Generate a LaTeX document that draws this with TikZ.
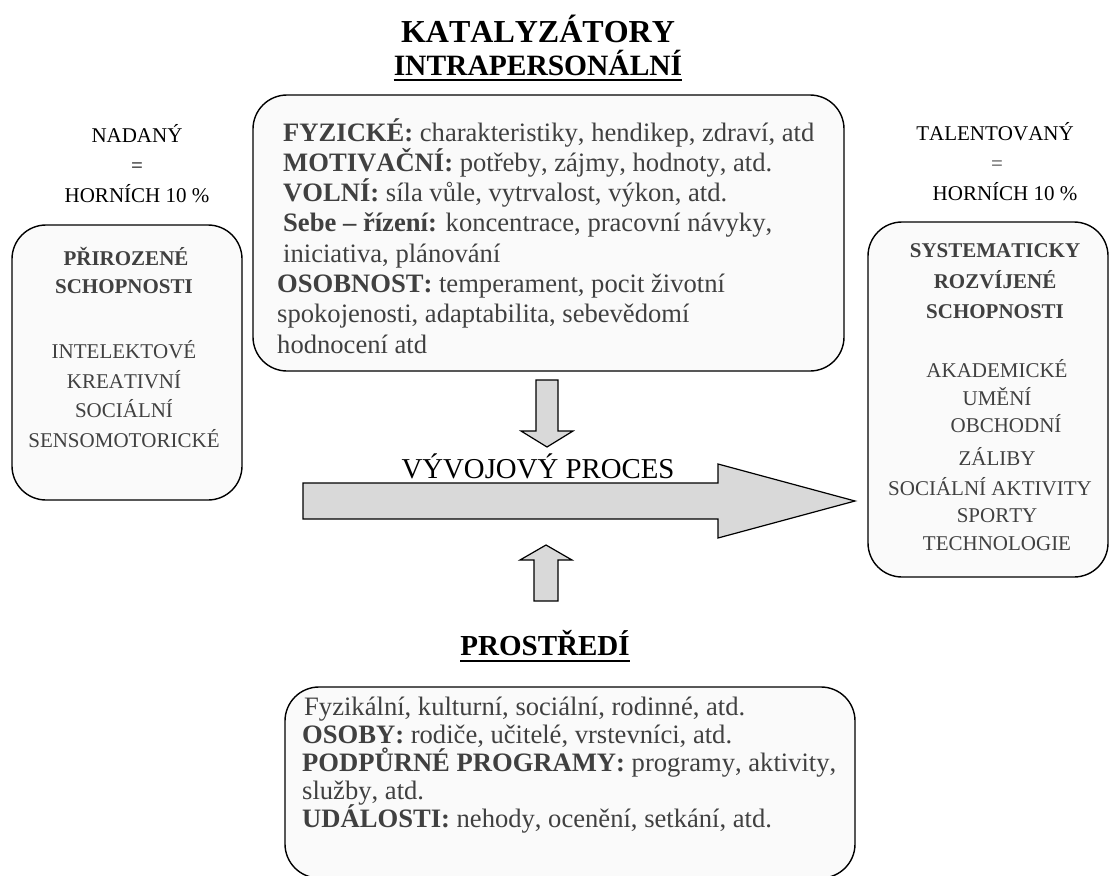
\documentclass[tikz,border=0pt]{standalone}
\usepackage{fontspec}
\setmainfont{Liberation Serif}[Kerning=Off]
\definecolor{boxfill}{HTML}{FAFAFA}
\definecolor{txtgray}{HTML}{404040}
\definecolor{arrowfill}{HTML}{D9D9D9}
\newcommand\myfs[1]{\fontsize{#1}{#1}\selectfont}
\begin{document}
\begin{tikzpicture}[x=1pt,y=-1pt,
  box/.style={draw=black,line width=1.4pt,fill=boxfill,rounded corners=34pt,inner sep=0},
  lbl/.style={inner sep=0,anchor=base,font=\myfs{21}},
  gtxt/.style={lbl,text=txtgray},
  bt/.style={inner sep=0,anchor=base west,text=txtgray,font=\myfs{26.6}},
  title/.style={inner sep=0,anchor=base,font=\myfs{30}\bfseries},
  uline/.style={line width=2pt},
  blockarrow/.style={draw=black,line width=1.2pt,fill=arrowfill,line join=miter}
]
\useasboundingbox (0,0) rectangle (1110,875);

% ---- boxes
\node[box,minimum width=230pt,minimum height=275pt] (natural) at (127,362.5) {};
\node[box,minimum width=591pt,minimum height=276pt] (intra) at (548.5,233) {};
\node[box,minimum width=240pt,minimum height=355pt] (developed) at (988,399.5) {};
\node[box,minimum width=570pt,minimum height=191pt] (env) at (570,782.5) {};

% ---- titles
\node[title,font=\myfs{32}\bfseries] (t1) at (538,42) {KATALYZÁTORY};
\node[title,font=\myfs{29.5}\bfseries] (t2) at (538,75) {INTRAPERSONÁLNÍ};
\draw[uline] ([yshift=-5pt]t2.base west) -- ([yshift=-5pt]t2.base east);
\node[title,font=\myfs{29}\bfseries] (t3) at (545,655) {PROSTŘEDÍ};
\draw[uline] ([yshift=-6pt]t3.base west) -- ([yshift=-6pt]t3.base east);

% ---- side labels
\node[lbl] (n1) at (137,142) {NADANÝ};
\node[lbl] (n2) at (137,172) {=};
\node[lbl] (n3) at (137,202) {HORNÍCH 10 \%};
\node[lbl] (m1) at (995,140) {TALENTOVANÝ};
\node[gtxt] (m2) at (997,170) {=};
\node[lbl] (m3) at (1005,200) {HORNÍCH 10 \%};

% ---- left box text
\node[gtxt,font=\myfs{21}\bfseries] (a1) at (126,265) {PŘIROZENÉ};
\node[gtxt,font=\myfs{21}\bfseries] (a2) at (124,293) {SCHOPNOSTI};
\node[gtxt] (a3) at (124,358) {INTELEKTOVÉ};
\node[gtxt] (a4) at (124,388) {KREATIVNÍ};
\node[gtxt] (a5) at (124,417) {SOCIÁLNÍ};
\node[gtxt] (a6) at (124,447) {SENSOMOTORICKÉ};

% ---- right box text
\node[gtxt,font=\myfs{21}\bfseries] (b1) at (995,257) {SYSTEMATICKY};
\node[gtxt,font=\myfs{21}\bfseries] (b2) at (995,288) {ROZVÍJENÉ};
\node[gtxt,font=\myfs{21}\bfseries] (b3) at (995,318) {SCHOPNOSTI};
\node[gtxt] (b4) at (997,377) {AKADEMICKÉ};
\node[gtxt] (b5) at (997,405) {UMĚNÍ};
\node[gtxt] (b6) at (1006,432) {OBCHODNÍ};
\node[gtxt] (b7) at (997,465) {ZÁLIBY};
\node[gtxt] (b8) at (990,495) {SOCIÁLNÍ AKTIVITY};
\node[gtxt] (b9) at (997,522) {SPORTY};
\node[gtxt] (b10) at (997,550) {TECHNOLOGIE};

% ---- top box text
\node[bt] (c1) at (283,141) {\textbf{FYZICKÉ:} charakteristiky, hendikep, zdraví, atd};
\node[bt] (c2) at (283,171.3) {\textbf{MOTIVAČNÍ:} potřeby, zájmy, hodnoty, atd.};
\node[bt] (c3) at (283,201.6) {\textbf{VOLNÍ:} síla vůle, vytrvalost, výkon, atd.};
\node[bt] (c4) at (283,231.9) {\textbf{Sebe – řízení:} koncentrace, pracovní návyky,};
\node[bt] (c5) at (283,262.2) {iniciativa, plánování};
\node[bt] (c6) at (277,292.5) {\textbf{OSOBNOST:} temperament, pocit životní};
\node[bt] (c7) at (277,322.8) {spokojenosti, adaptabilita, sebevědomí};
\node[bt] (c8) at (277,353.1) {hodnocení atd};

% ---- bottom box text
\node[bt] (d1) at (304,715) {Fyzikální, kulturní, sociální, rodinné, atd.};
\node[bt] (d2) at (302,743) {\textbf{OSOBY:} rodiče, učitelé, vrstevníci, atd.};
\node[bt] (d3) at (302,771) {\textbf{PODPŮRNÉ PROGRAMY:} programy, aktivity,};
\node[bt] (d4) at (302,799) {služby, atd.};
\node[bt] (d5) at (302,827) {\textbf{UDÁLOSTI:} nehody, ocenění, setkání, atd.};

% ---- block arrows
\draw[blockarrow] (303,483) -- (718,483) -- (718,464) -- (855,501) -- (718,538) -- (718,519) -- (303,519) -- cycle;
\draw[blockarrow] (536,380) -- (558,380) -- (558,431) -- (573,431) -- (547,447) -- (521,431) -- (536,431) -- cycle;
\draw[blockarrow] (534,601) -- (558,601) -- (558,560) -- (572,560) -- (546,545) -- (520,560) -- (534,560) -- cycle;
\node[inner sep=0,anchor=base,font=\myfs{28.8}] (proc) at (538,478) {VÝVOJOVÝ PROCES};
\end{tikzpicture}
\end{document}
